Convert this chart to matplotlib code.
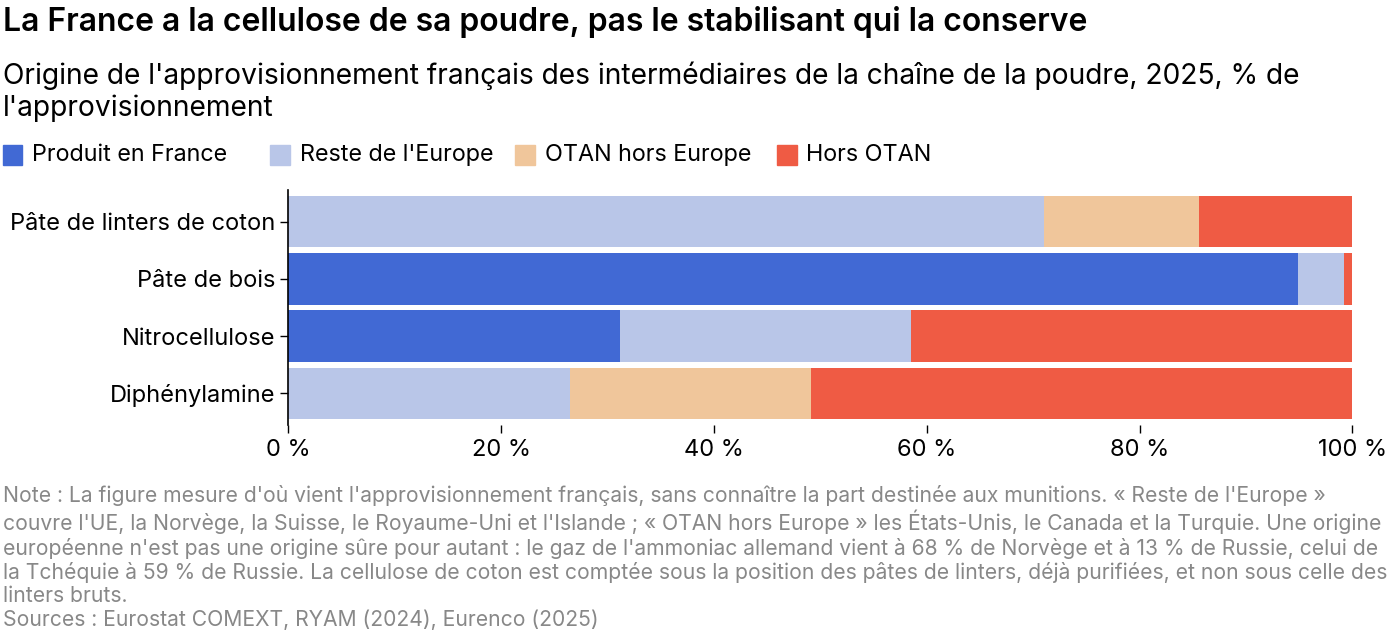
import matplotlib.pyplot as plt
from matplotlib.patches import Rectangle

plt.rcParams['font.family'] = ['Inter', 'DejaVu Sans']

categories = ["Pâte de linters de coton", "Pâte de bois", "Nitrocellulose", "Diphénylamine"]
series_names = ["Produit en France", "Reste de l'Europe", "OTAN hors Europe", "Hors OTAN"]
france = [0.0, 94.9, 31.2, 0.0]
europe = [71.0, 4.3, 27.3, 26.5]
otan = [14.6, 0.0, 0.0, 22.6]
hors_otan = [14.4, 0.8, 41.5, 50.9]
colors = ["#4169d4", "#b9c6e8", "#f0c69b", "#ef5b44"]
ticks = [0, 20, 40, 60, 80, 100]

fig = plt.figure(figsize=(14, 6.38), dpi=100)
ax = fig.add_axes([0.206, 0.334, 0.76, 0.368])

y = list(range(len(categories)))[::-1]
left = [0.0] * len(categories)
for vals, col in zip([france, europe, otan, hors_otan], colors):
    ax.barh(y, vals, left=left, color=col, height=0.9)
    left = [l + v for l, v in zip(left, vals)]

ax.set_xlim(0, 100)
ax.set_ylim(-0.55, 3.55)
ax.set_yticks(y)
ax.set_yticklabels(categories, fontsize=17)
ax.set_xticks(ticks)
ax.set_xticklabels([f"{t} %" for t in ticks], fontsize=17)
for s in ["top", "right", "bottom"]:
    ax.spines[s].set_visible(False)
ax.spines["left"].set_linewidth(1.2)
ax.tick_params(axis="y", length=6, width=1)
ax.tick_params(axis="x", length=6, width=1, pad=4)

fig.text(0.002, 0.965, "La France a la cellulose de sa poudre, pas le stabilisant qui la conserve",
         fontsize=23, fontweight="semibold", va="center")
fig.text(0.002, 0.882, "Origine de l'approvisionnement français des intermédiaires de la chaîne de la poudre, 2025, % de",
         fontsize=20.3, va="center")
fig.text(0.002, 0.83, "l'approvisionnement", fontsize=20.3, va="center")

lx = [0.002, 0.193, 0.368, 0.555]
for x, name, col in zip(lx, series_names, colors):
    fig.patches.append(Rectangle((x, 0.741), 0.014, 0.032, color=col, transform=fig.transFigure))
    fig.text(x + 0.021, 0.757, name, fontsize=16.8, va="center")

note = ("Note : La figure mesure d'où vient l'approvisionnement français, sans connaître la part destinée aux munitions. « Reste de l'Europe »\n"
        "couvre l'UE, la Norvège, la Suisse, le Royaume-Uni et l'Islande ; « OTAN hors Europe » les États-Unis, le Canada et la Turquie. Une origine\n"
        "européenne n'est pas une origine sûre pour autant : le gaz de l'ammoniac allemand vient à 68 % de Norvège et à 13 % de Russie, celui de\n"
        "la Tchéquie à 59 % de Russie. La cellulose de coton est comptée sous la position des pâtes de linters, déjà purifiées, et non sous celle des\n"
        "linters bruts.\n"
        "Sources : Eurostat COMEXT, RYAM (2024), Eurenco (2025)")
fig.text(0.002, 0.24, note, fontsize=15.2, color="#888888", va="top", linespacing=1.2)

fig.savefig("out.png")
